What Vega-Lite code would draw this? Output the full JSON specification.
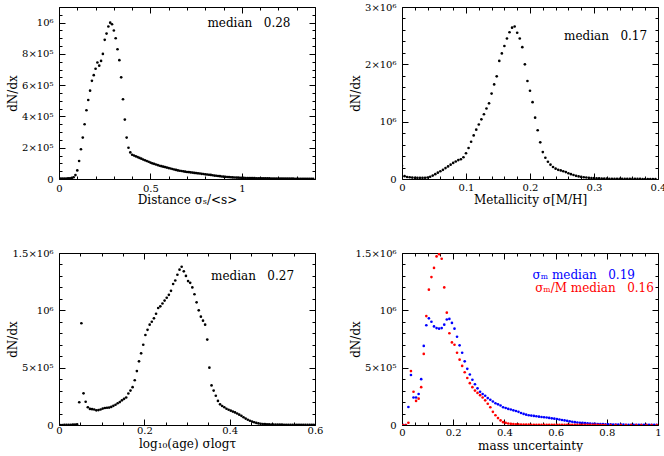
{
"$schema":"https://vega.github.io/schema/vega-lite/v6.json",
"padding":{"left":5,"top":1,"right":0,"bottom":0},
"config":{"font":"DejaVu Serif","view":{"stroke":"#000","strokeWidth":1},
"axis":{"grid":false,"domain":false,"labelFont":"DejaVu Serif","labelFontSize":10,"labelColor":"#000","titleFont":"DejaVu Serif","titleFontSize":12,"titleFontWeight":"normal","titleColor":"#000","tickColor":"#000","tickWidth":1,"labelFlush":false,"labelOverlap":false},
"text":{"font":"DejaVu Serif","fontSize":12}},
"datasets":{
"d1":[{"x":0,"y":1000},{"x":0.01,"y":2000},{"x":0.02,"y":2500},{"x":0.03,"y":3000},{"x":0.04,"y":3500},{"x":0.05,"y":4000},{"x":0.06,"y":5000},{"x":0.07,"y":7000},{"x":0.08,"y":11000},{"x":0.09,"y":25000},{"x":0.1,"y":55000},{"x":0.11,"y":115000},{"x":0.12,"y":190000},{"x":0.13,"y":265000},{"x":0.14,"y":350000},{"x":0.15,"y":440000},{"x":0.16,"y":505000},{"x":0.17,"y":565000},{"x":0.18,"y":628000},{"x":0.19,"y":664000},{"x":0.2,"y":705000},{"x":0.21,"y":745000},{"x":0.22,"y":725000},{"x":0.23,"y":755000},{"x":0.24,"y":800000},{"x":0.25,"y":890000},{"x":0.26,"y":930000},{"x":0.27,"y":975000},{"x":0.28,"y":1000000},{"x":0.29,"y":990000},{"x":0.3,"y":950000},{"x":0.31,"y":900000},{"x":0.32,"y":830000},{"x":0.33,"y":760000},{"x":0.34,"y":650000},{"x":0.35,"y":510000},{"x":0.36,"y":380000},{"x":0.37,"y":265000},{"x":0.38,"y":200000},{"x":0.39,"y":170000},{"x":0.4,"y":155000},{"x":0.41,"y":150000},{"x":0.42,"y":145000},{"x":0.43,"y":140000},{"x":0.44,"y":135000},{"x":0.45,"y":130000},{"x":0.46,"y":125000},{"x":0.47,"y":120000},{"x":0.48,"y":115000},{"x":0.49,"y":110000},{"x":0.5,"y":105000},{"x":0.51,"y":100000},{"x":0.52,"y":97000},{"x":0.53,"y":93000},{"x":0.54,"y":89000},{"x":0.55,"y":85000},{"x":0.56,"y":82000},{"x":0.57,"y":79000},{"x":0.58,"y":76000},{"x":0.59,"y":73000},{"x":0.6,"y":70000},{"x":0.61,"y":67000},{"x":0.62,"y":64000},{"x":0.63,"y":61000},{"x":0.64,"y":58000},{"x":0.65,"y":55000},{"x":0.66,"y":53000},{"x":0.67,"y":51000},{"x":0.68,"y":49000},{"x":0.69,"y":47000},{"x":0.7,"y":45000},{"x":0.71,"y":44000},{"x":0.72,"y":42000},{"x":0.73,"y":41000},{"x":0.74,"y":39000},{"x":0.75,"y":38000},{"x":0.76,"y":36000},{"x":0.77,"y":35000},{"x":0.78,"y":33000},{"x":0.79,"y":32000},{"x":0.8,"y":30000},{"x":0.81,"y":29000},{"x":0.82,"y":27000},{"x":0.83,"y":26000},{"x":0.84,"y":24000},{"x":0.85,"y":22000},{"x":0.86,"y":21000},{"x":0.87,"y":19000},{"x":0.88,"y":18000},{"x":0.89,"y":16000},{"x":0.9,"y":15000},{"x":0.91,"y":14000},{"x":0.92,"y":13000},{"x":0.93,"y":12000},{"x":0.94,"y":11000},{"x":0.95,"y":10000},{"x":0.96,"y":9500},{"x":0.97,"y":9000},{"x":0.98,"y":8500},{"x":0.99,"y":8000},{"x":1.0,"y":7500},{"x":1.01,"y":7000},{"x":1.02,"y":6700},{"x":1.03,"y":6400},{"x":1.04,"y":6100},{"x":1.05,"y":5800},{"x":1.06,"y":5500},{"x":1.07,"y":5200},{"x":1.08,"y":5000},{"x":1.09,"y":4800},{"x":1.1,"y":4600},{"x":1.11,"y":4400},{"x":1.12,"y":4200},{"x":1.13,"y":4000},{"x":1.14,"y":3800},{"x":1.15,"y":3600},{"x":1.16,"y":3400},{"x":1.17,"y":3200},{"x":1.18,"y":3000},{"x":1.19,"y":2900},{"x":1.2,"y":2800},{"x":1.21,"y":2700},{"x":1.22,"y":2600},{"x":1.23,"y":2500},{"x":1.24,"y":2400},{"x":1.25,"y":2300},{"x":1.26,"y":2200},{"x":1.27,"y":2100},{"x":1.28,"y":2000},{"x":1.29,"y":1900},{"x":1.3,"y":1800},{"x":1.31,"y":1700},{"x":1.32,"y":1600},{"x":1.33,"y":1500},{"x":1.34,"y":1400},{"x":1.35,"y":1300},{"x":1.36,"y":1200},{"x":1.37,"y":1100},{"x":1.38,"y":1000},{"x":1.39,"y":900}],
"d2":[{"x":0.0,"y":230000},{"x":0.004,"y":50000},{"x":0.008,"y":35000},{"x":0.012,"y":30000},{"x":0.016,"y":25000},{"x":0.02,"y":22000},{"x":0.024,"y":20000},{"x":0.028,"y":20000},{"x":0.032,"y":20000},{"x":0.036,"y":22000},{"x":0.04,"y":27000},{"x":0.044,"y":40000},{"x":0.048,"y":60000},{"x":0.052,"y":85000},{"x":0.056,"y":110000},{"x":0.06,"y":135000},{"x":0.064,"y":160000},{"x":0.068,"y":190000},{"x":0.072,"y":220000},{"x":0.076,"y":250000},{"x":0.08,"y":280000},{"x":0.084,"y":305000},{"x":0.088,"y":330000},{"x":0.092,"y":345000},{"x":0.096,"y":380000},{"x":0.1,"y":450000},{"x":0.104,"y":540000},{"x":0.108,"y":650000},{"x":0.112,"y":760000},{"x":0.116,"y":860000},{"x":0.12,"y":950000},{"x":0.124,"y":1040000},{"x":0.128,"y":1130000},{"x":0.132,"y":1230000},{"x":0.136,"y":1320000},{"x":0.14,"y":1490000},{"x":0.144,"y":1650000},{"x":0.148,"y":1790000},{"x":0.152,"y":2060000},{"x":0.156,"y":2190000},{"x":0.16,"y":2320000},{"x":0.164,"y":2450000},{"x":0.168,"y":2560000},{"x":0.172,"y":2640000},{"x":0.176,"y":2660000},{"x":0.18,"y":2550000},{"x":0.184,"y":2450000},{"x":0.188,"y":2300000},{"x":0.192,"y":2000000},{"x":0.196,"y":1710000},{"x":0.2,"y":1540000},{"x":0.204,"y":1340000},{"x":0.208,"y":1070000},{"x":0.212,"y":850000},{"x":0.216,"y":640000},{"x":0.22,"y":470000},{"x":0.224,"y":370000},{"x":0.228,"y":300000},{"x":0.232,"y":250000},{"x":0.236,"y":210000},{"x":0.24,"y":180000},{"x":0.244,"y":160000},{"x":0.248,"y":150000},{"x":0.252,"y":135000},{"x":0.256,"y":120000},{"x":0.26,"y":100000},{"x":0.264,"y":85000},{"x":0.268,"y":70000},{"x":0.272,"y":55000},{"x":0.276,"y":45000},{"x":0.28,"y":37000},{"x":0.284,"y":31000},{"x":0.288,"y":26000},{"x":0.292,"y":21000},{"x":0.296,"y":17000},{"x":0.3,"y":14000},{"x":0.304,"y":12000},{"x":0.308,"y":10000},{"x":0.312,"y":8000},{"x":0.316,"y":7000},{"x":0.32,"y":6000},{"x":0.324,"y":5000},{"x":0.328,"y":4000},{"x":0.332,"y":4000},{"x":0.336,"y":3000},{"x":0.34,"y":3000},{"x":0.344,"y":2000},{"x":0.348,"y":2000},{"x":0.352,"y":2000},{"x":0.356,"y":1500},{"x":0.36,"y":1500},{"x":0.364,"y":1200},{"x":0.368,"y":1000},{"x":0.372,"y":1000},{"x":0.376,"y":800},{"x":0.38,"y":800},{"x":0.384,"y":600},{"x":0.388,"y":500},{"x":0.392,"y":500},{"x":0.396,"y":400}],
"d3":[{"x":0.0025,"y":0},{"x":0.0075,"y":0},{"x":0.0125,"y":500},{"x":0.0175,"y":1000},{"x":0.0225,"y":1500},{"x":0.0275,"y":2000},{"x":0.0325,"y":3000},{"x":0.0375,"y":4000},{"x":0.0425,"y":6000},{"x":0.0475,"y":198000},{"x":0.0525,"y":887000},{"x":0.0575,"y":276000},{"x":0.0625,"y":203000},{"x":0.0675,"y":155000},{"x":0.0725,"y":140000},{"x":0.0775,"y":138000},{"x":0.0825,"y":135000},{"x":0.0875,"y":128000},{"x":0.0925,"y":130000},{"x":0.0975,"y":135000},{"x":0.1025,"y":143000},{"x":0.1075,"y":148000},{"x":0.1125,"y":150000},{"x":0.1175,"y":152000},{"x":0.1225,"y":158000},{"x":0.1275,"y":167000},{"x":0.1325,"y":177000},{"x":0.1375,"y":190000},{"x":0.1425,"y":200000},{"x":0.1475,"y":215000},{"x":0.1525,"y":228000},{"x":0.1575,"y":240000},{"x":0.1625,"y":275000},{"x":0.1675,"y":300000},{"x":0.1725,"y":330000},{"x":0.1775,"y":390000},{"x":0.1825,"y":470000},{"x":0.1875,"y":555000},{"x":0.1925,"y":625000},{"x":0.1975,"y":700000},{"x":0.2025,"y":785000},{"x":0.2075,"y":830000},{"x":0.2125,"y":875000},{"x":0.2175,"y":900000},{"x":0.2225,"y":930000},{"x":0.2275,"y":970000},{"x":0.2325,"y":1020000},{"x":0.2375,"y":1035000},{"x":0.2425,"y":1060000},{"x":0.2475,"y":1085000},{"x":0.2525,"y":1110000},{"x":0.2575,"y":1135000},{"x":0.2625,"y":1170000},{"x":0.2675,"y":1230000},{"x":0.2725,"y":1260000},{"x":0.2775,"y":1310000},{"x":0.2825,"y":1355000},{"x":0.2875,"y":1380000},{"x":0.2925,"y":1340000},{"x":0.2975,"y":1300000},{"x":0.3025,"y":1255000},{"x":0.3075,"y":1240000},{"x":0.3125,"y":1200000},{"x":0.3175,"y":1140000},{"x":0.3225,"y":1070000},{"x":0.3275,"y":1000000},{"x":0.3325,"y":945000},{"x":0.3375,"y":910000},{"x":0.3425,"y":875000},{"x":0.3475,"y":745000},{"x":0.3525,"y":500000},{"x":0.3575,"y":345000},{"x":0.3625,"y":300000},{"x":0.3675,"y":255000},{"x":0.3725,"y":210000},{"x":0.3775,"y":180000},{"x":0.3825,"y":166000},{"x":0.3875,"y":155000},{"x":0.3925,"y":142000},{"x":0.3975,"y":133000},{"x":0.4025,"y":125000},{"x":0.4075,"y":117000},{"x":0.4125,"y":110000},{"x":0.4175,"y":100000},{"x":0.4225,"y":90000},{"x":0.4275,"y":80000},{"x":0.4325,"y":68000},{"x":0.4375,"y":56000},{"x":0.4425,"y":46000},{"x":0.4475,"y":37000},{"x":0.4525,"y":30000},{"x":0.4575,"y":24000},{"x":0.4625,"y":18000},{"x":0.4675,"y":14000},{"x":0.4725,"y":11000},{"x":0.4775,"y":9000},{"x":0.4825,"y":7000},{"x":0.4875,"y":6000},{"x":0.4925,"y":5000},{"x":0.4975,"y":4000},{"x":0.5025,"y":3800},{"x":0.5075,"y":3500},{"x":0.5125,"y":3200},{"x":0.5175,"y":3000},{"x":0.5225,"y":2800},{"x":0.5275,"y":2600},{"x":0.5325,"y":2400},{"x":0.5375,"y":2200},{"x":0.5425,"y":2000},{"x":0.5475,"y":1800},{"x":0.5525,"y":1600},{"x":0.5575,"y":1500},{"x":0.5625,"y":1400},{"x":0.5675,"y":1200},{"x":0.5725,"y":1100},{"x":0.5775,"y":1000},{"x":0.5825,"y":900},{"x":0.5875,"y":800},{"x":0.5925,"y":700},{"x":0.5975,"y":600}],
"d4":[{"s":"σM","x":0.005,"y":0},{"s":"σM","x":0.015,"y":0},{"s":"σM","x":0.025,"y":157000},{"s":"σM","x":0.035,"y":436000},{"s":"σM","x":0.045,"y":240000},{"s":"σM","x":0.055,"y":240000},{"s":"σM","x":0.065,"y":270000},{"s":"σM","x":0.075,"y":400000},{"s":"σM","x":0.085,"y":690000},{"s":"σM","x":0.095,"y":870000},{"s":"σM","x":0.105,"y":930000},{"s":"σM","x":0.115,"y":900000},{"s":"σM","x":0.125,"y":860000},{"s":"σM","x":0.135,"y":845000},{"s":"σM","x":0.145,"y":840000},{"s":"σM","x":0.155,"y":845000},{"s":"σM","x":0.165,"y":875000},{"s":"σM","x":0.175,"y":920000},{"s":"σM","x":0.185,"y":925000},{"s":"σM","x":0.195,"y":890000},{"s":"σM","x":0.205,"y":840000},{"s":"σM","x":0.215,"y":770000},{"s":"σM","x":0.225,"y":695000},{"s":"σM","x":0.235,"y":630000},{"s":"σM","x":0.245,"y":555000},{"s":"σM","x":0.255,"y":490000},{"s":"σM","x":0.265,"y":440000},{"s":"σM","x":0.275,"y":395000},{"s":"σM","x":0.285,"y":355000},{"s":"σM","x":0.295,"y":320000},{"s":"σM","x":0.305,"y":290000},{"s":"σM","x":0.315,"y":270000},{"s":"σM","x":0.325,"y":255000},{"s":"σM","x":0.335,"y":235000},{"s":"σM","x":0.345,"y":220000},{"s":"σM","x":0.355,"y":205000},{"s":"σM","x":0.365,"y":190000},{"s":"σM","x":0.375,"y":180000},{"s":"σM","x":0.385,"y":170000},{"s":"σM","x":0.395,"y":155000},{"s":"σM","x":0.405,"y":148000},{"s":"σM","x":0.415,"y":140000},{"s":"σM","x":0.425,"y":135000},{"s":"σM","x":0.435,"y":128000},{"s":"σM","x":0.445,"y":122000},{"s":"σM","x":0.455,"y":115000},{"s":"σM","x":0.465,"y":105000},{"s":"σM","x":0.475,"y":97000},{"s":"σM","x":0.485,"y":90000},{"s":"σM","x":0.495,"y":85000},{"s":"σM","x":0.505,"y":82000},{"s":"σM","x":0.515,"y":79000},{"s":"σM","x":0.525,"y":76000},{"s":"σM","x":0.535,"y":73000},{"s":"σM","x":0.545,"y":70000},{"s":"σM","x":0.555,"y":68000},{"s":"σM","x":0.565,"y":65000},{"s":"σM","x":0.575,"y":62000},{"s":"σM","x":0.585,"y":58000},{"s":"σM","x":0.595,"y":55000},{"s":"σM","x":0.605,"y":52000},{"s":"σM","x":0.615,"y":48000},{"s":"σM","x":0.625,"y":44000},{"s":"σM","x":0.635,"y":40000},{"s":"σM","x":0.645,"y":36000},{"s":"σM","x":0.655,"y":32000},{"s":"σM","x":0.665,"y":28000},{"s":"σM","x":0.675,"y":25000},{"s":"σM","x":0.685,"y":22000},{"s":"σM","x":0.695,"y":20000},{"s":"σM","x":0.705,"y":18000},{"s":"σM","x":0.715,"y":16000},{"s":"σM","x":0.725,"y":14000},{"s":"σM","x":0.735,"y":12000},{"s":"σM","x":0.745,"y":11000},{"s":"σM","x":0.755,"y":10000},{"s":"σM","x":0.765,"y":9000},{"s":"σM","x":0.775,"y":8000},{"s":"σM","x":0.785,"y":7000},{"s":"σM","x":0.795,"y":6000},{"s":"σM","x":0.805,"y":5500},{"s":"σM","x":0.815,"y":5000},{"s":"σM","x":0.825,"y":4500},{"s":"σM","x":0.835,"y":4000},{"s":"σM","x":0.845,"y":3600},{"s":"σM","x":0.855,"y":3200},{"s":"σM","x":0.865,"y":2900},{"s":"σM","x":0.875,"y":2600},{"s":"σM","x":0.885,"y":2300},{"s":"σM","x":0.895,"y":2100},{"s":"σM","x":0.905,"y":1900},{"s":"σM","x":0.915,"y":1700},{"s":"σM","x":0.925,"y":1500},{"s":"σM","x":0.935,"y":1400},{"s":"σM","x":0.945,"y":1300},{"s":"σM","x":0.955,"y":1200},{"s":"σM","x":0.965,"y":1100},{"s":"σM","x":0.975,"y":1000},{"s":"σM","x":0.985,"y":900},{"s":"σM","x":0.995,"y":800},
{"s":"σM/M","x":0.005,"y":0},{"s":"σM/M","x":0.015,"y":0},{"s":"σM/M","x":0.025,"y":20000},{"s":"σM/M","x":0.035,"y":470000},{"s":"σM/M","x":0.045,"y":290000},{"s":"σM/M","x":0.055,"y":210000},{"s":"σM/M","x":0.065,"y":230000},{"s":"σM/M","x":0.075,"y":330000},{"s":"σM/M","x":0.085,"y":620000},{"s":"σM/M","x":0.095,"y":950000},{"s":"σM/M","x":0.105,"y":1180000},{"s":"σM/M","x":0.115,"y":1290000},{"s":"σM/M","x":0.125,"y":1370000},{"s":"σM/M","x":0.135,"y":1470000},{"s":"σM/M","x":0.145,"y":1490000},{"s":"σM/M","x":0.155,"y":1450000},{"s":"σM/M","x":0.165,"y":1200000},{"s":"σM/M","x":0.175,"y":980000},{"s":"σM/M","x":0.185,"y":800000},{"s":"σM/M","x":0.195,"y":720000},{"s":"σM/M","x":0.205,"y":700000},{"s":"σM/M","x":0.215,"y":630000},{"s":"σM/M","x":0.225,"y":570000},{"s":"σM/M","x":0.235,"y":515000},{"s":"σM/M","x":0.245,"y":460000},{"s":"σM/M","x":0.255,"y":410000},{"s":"σM/M","x":0.265,"y":365000},{"s":"σM/M","x":0.275,"y":330000},{"s":"σM/M","x":0.285,"y":300000},{"s":"σM/M","x":0.295,"y":280000},{"s":"σM/M","x":0.305,"y":260000},{"s":"σM/M","x":0.315,"y":240000},{"s":"σM/M","x":0.325,"y":215000},{"s":"σM/M","x":0.335,"y":185000},{"s":"σM/M","x":0.345,"y":155000},{"s":"σM/M","x":0.355,"y":115000},{"s":"σM/M","x":0.365,"y":85000},{"s":"σM/M","x":0.375,"y":60000},{"s":"σM/M","x":0.385,"y":40000},{"s":"σM/M","x":0.395,"y":25000},{"s":"σM/M","x":0.405,"y":18000},{"s":"σM/M","x":0.415,"y":13000},{"s":"σM/M","x":0.425,"y":10000},{"s":"σM/M","x":0.435,"y":8000},{"s":"σM/M","x":0.445,"y":6000},{"s":"σM/M","x":0.455,"y":5000},{"s":"σM/M","x":0.465,"y":4000},{"s":"σM/M","x":0.475,"y":3500},{"s":"σM/M","x":0.485,"y":3000},{"s":"σM/M","x":0.495,"y":3000},{"s":"σM/M","x":0.505,"y":2500},{"s":"σM/M","x":0.515,"y":2400},{"s":"σM/M","x":0.525,"y":2300},{"s":"σM/M","x":0.535,"y":2200},{"s":"σM/M","x":0.545,"y":2100},{"s":"σM/M","x":0.555,"y":2000},{"s":"σM/M","x":0.565,"y":1900},{"s":"σM/M","x":0.575,"y":1800},{"s":"σM/M","x":0.585,"y":1700},{"s":"σM/M","x":0.595,"y":1600},{"s":"σM/M","x":0.605,"y":1500},{"s":"σM/M","x":0.615,"y":1400},{"s":"σM/M","x":0.625,"y":1300},{"s":"σM/M","x":0.635,"y":1200},{"s":"σM/M","x":0.645,"y":1100},{"s":"σM/M","x":0.655,"y":1000},{"s":"σM/M","x":0.665,"y":950},{"s":"σM/M","x":0.675,"y":900},{"s":"σM/M","x":0.685,"y":850},{"s":"σM/M","x":0.695,"y":800},{"s":"σM/M","x":0.705,"y":750},{"s":"σM/M","x":0.715,"y":700},{"s":"σM/M","x":0.725,"y":650},{"s":"σM/M","x":0.735,"y":600},{"s":"σM/M","x":0.745,"y":560},{"s":"σM/M","x":0.755,"y":520},{"s":"σM/M","x":0.765,"y":480},{"s":"σM/M","x":0.775,"y":450},{"s":"σM/M","x":0.785,"y":420},{"s":"σM/M","x":0.795,"y":400},{"s":"σM/M","x":0.815,"y":380},{"s":"σM/M","x":0.835,"y":350},{"s":"σM/M","x":0.855,"y":320},{"s":"σM/M","x":0.875,"y":300},{"s":"σM/M","x":0.895,"y":280},{"s":"σM/M","x":0.915,"y":260},{"s":"σM/M","x":0.935,"y":240},{"s":"σM/M","x":0.955,"y":220},{"s":"σM/M","x":0.975,"y":210},{"s":"σM/M","x":0.995,"y":200}]
},
"columns":2,
"spacing":{"row":74,"column":87},
"bounds":"flush",
"concat":[
{"width":256,"height":172,"resolve":{"axis":{"x":"independent","y":"independent"}},
"layer":[
{"data":{"name":"d1"},"mark":{"type":"circle","size":7,"opacity":1,"color":"#000","clip":true},
"encoding":{
"x":{"field":"x","type":"quantitative","scale":{"domain":[0,1.4],"nice":false,"zero":false},
"axis":{"orient":"bottom","values":[0,0.1,0.2,0.3,0.4,0.5,0.6,0.7,0.8,0.9,1,1.1,1.2,1.3,1.4],"labelExpr":"abs(datum.value*2-round(datum.value*2))<1e-6 ? format(datum.value,'~g') : ''","tickSize":{"condition":{"test":"abs(datum.value*2-round(datum.value*2))<1e-6","value":-6},"value":-3},"labelPadding":15,"labelBaseline":"middle","title":"Distance σₛ/<s>","titleY":24,"titleBaseline":"alphabetic"}},
"y":{"field":"y","type":"quantitative","scale":{"domain":[0,1100000],"nice":false},
"axis":{"orient":"left","values":[0,50000,100000,150000,200000,250000,300000,350000,400000,450000,500000,550000,600000,650000,700000,750000,800000,850000,900000,950000,1000000,1050000,1100000],"labelExpr":"datum.value==0 ? '0' : datum.value==1000000 ? '10⁶\u00a0\u00a0' : (datum.value % 200000 == 0 ? format(datum.value/100000,'d')+'×10⁵\u00a0\u00a0' : '')","tickSize":{"condition":{"test":"datum.value % 200000 == 0","value":-6},"value":-3},"labelPadding":12,"title":"dN/dx","titleX":-43,"titleBaseline":"alphabetic"}}}},
{"data":{"values":[{"x":1.266,"y":995000,"label":"median\u00a0\u00a0\u00a00.28"}]},"mark":{"type":"text","align":"right","baseline":"middle","fontSize":12,"color":"#000"},
"encoding":{
"x":{"field":"x","type":"quantitative","scale":{"domain":[0,1.4],"nice":false,"zero":false},"axis":{"orient":"top","values":[0,0.1,0.2,0.3,0.4,0.5,0.6,0.7,0.8,0.9,1,1.1,1.2,1.3,1.4],"labels":false,"title":null,"tickSize":{"condition":{"test":"abs(datum.value*2-round(datum.value*2))<1e-6","value":-6},"value":-3}}},
"y":{"field":"y","type":"quantitative","scale":{"domain":[0,1100000],"nice":false},"axis":{"orient":"right","values":[0,50000,100000,150000,200000,250000,300000,350000,400000,450000,500000,550000,600000,650000,700000,750000,800000,850000,900000,950000,1000000,1050000,1100000],"labels":false,"title":null,"tickSize":{"condition":{"test":"datum.value % 200000 == 0","value":-6},"value":-3}}},
"text":{"field":"label"}}}
]},
{"width":256,"height":172,"resolve":{"axis":{"x":"independent","y":"independent"}},
"layer":[
{"data":{"name":"d2"},"mark":{"type":"circle","size":7,"opacity":1,"color":"#000","clip":true},
"encoding":{
"x":{"field":"x","type":"quantitative","scale":{"domain":[0,0.4],"nice":false,"zero":false},
"axis":{"orient":"bottom","values":[0,0.02,0.04,0.06,0.08,0.1,0.12,0.14,0.16,0.18,0.2,0.22,0.24,0.26,0.28,0.3,0.32,0.34,0.36,0.38,0.4],"labelExpr":"abs(datum.value*10-round(datum.value*10))<1e-6 ? format(datum.value,'~g') : ''","tickSize":{"condition":{"test":"abs(datum.value*10-round(datum.value*10))<1e-6","value":-6},"value":-3},"labelPadding":14,"labelBaseline":"middle","title":"Metallicity σ[M/H]","titleY":24,"titleBaseline":"alphabetic"}},
"y":{"field":"y","type":"quantitative","scale":{"domain":[0,3000000],"nice":false},
"axis":{"orient":"left","values":[0,200000,400000,600000,800000,1000000,1200000,1400000,1600000,1800000,2000000,2200000,2400000,2600000,2800000,3000000],"labelExpr":"datum.value==0 ? '0' : datum.value==1000000 ? '10⁶\u00a0\u00a0' : (datum.value % 1000000 == 0 ? format(datum.value/1000000,'d')+'×10⁶\u00a0\u00a0' : '')","tickSize":{"condition":{"test":"datum.value % 1000000 == 0","value":-6},"value":-3},"labelPadding":12,"title":"dN/dx","titleX":-43,"titleBaseline":"alphabetic"}}}},
{"data":{"values":[{"x":0.383,"y":2487000,"label":"median\u00a0\u00a0\u00a00.17"}]},"mark":{"type":"text","align":"right","baseline":"middle","fontSize":12,"color":"#000"},
"encoding":{
"x":{"field":"x","type":"quantitative","scale":{"domain":[0,0.4],"nice":false,"zero":false},"axis":{"orient":"top","values":[0,0.02,0.04,0.06,0.08,0.1,0.12,0.14,0.16,0.18,0.2,0.22,0.24,0.26,0.28,0.3,0.32,0.34,0.36,0.38,0.4],"labels":false,"title":null,"tickSize":{"condition":{"test":"abs(datum.value*10-round(datum.value*10))<1e-6","value":-6},"value":-3}}},
"y":{"field":"y","type":"quantitative","scale":{"domain":[0,3000000],"nice":false},"axis":{"orient":"right","values":[0,200000,400000,600000,800000,1000000,1200000,1400000,1600000,1800000,2000000,2200000,2400000,2600000,2800000,3000000],"labels":false,"title":null,"tickSize":{"condition":{"test":"datum.value % 1000000 == 0","value":-6},"value":-3}}},
"text":{"field":"label"}}}
]},
{"width":256,"height":172,"resolve":{"axis":{"x":"independent","y":"independent"}},
"layer":[
{"data":{"name":"d3"},"mark":{"type":"circle","size":7,"opacity":1,"color":"#000","clip":true},
"encoding":{
"x":{"field":"x","type":"quantitative","scale":{"domain":[0,0.6],"nice":false,"zero":false},
"axis":{"orient":"bottom","values":[0,0.05,0.1,0.15,0.2,0.25,0.3,0.35,0.4,0.45,0.5,0.55,0.6],"labelExpr":"abs(datum.value*5-round(datum.value*5))<1e-6 ? format(datum.value,'~g') : ''","tickSize":{"condition":{"test":"abs(datum.value*5-round(datum.value*5))<1e-6","value":-6},"value":-3},"labelPadding":11,"labelBaseline":"middle","title":"log₁₀(age) σlogτ","titleY":22,"titleBaseline":"alphabetic"}},
"y":{"field":"y","type":"quantitative","scale":{"domain":[0,1500000],"nice":false},
"axis":{"orient":"left","values":[0,100000,200000,300000,400000,500000,600000,700000,800000,900000,1000000,1100000,1200000,1300000,1400000,1500000],"labelExpr":"datum.value==0 ? '0' : datum.value==1000000 ? '10⁶\u00a0\u00a0' : datum.value==500000 ? '5×10⁵\u00a0\u00a0' : datum.value==1500000 ? '1.5×10⁶\u00a0\u00a0' : ''","tickSize":{"condition":{"test":"datum.value % 500000 == 0","value":-6},"value":-3},"labelPadding":12,"title":"dN/dx","titleX":-43,"titleBaseline":"alphabetic"}}}},
{"data":{"values":[{"x":0.551,"y":1299000,"label":"median\u00a0\u00a0\u00a00.27"}]},"mark":{"type":"text","align":"right","baseline":"middle","fontSize":12,"color":"#000"},
"encoding":{
"x":{"field":"x","type":"quantitative","scale":{"domain":[0,0.6],"nice":false,"zero":false},"axis":{"orient":"top","values":[0,0.05,0.1,0.15,0.2,0.25,0.3,0.35,0.4,0.45,0.5,0.55,0.6],"labels":false,"title":null,"tickSize":{"condition":{"test":"abs(datum.value*5-round(datum.value*5))<1e-6","value":-6},"value":-3}}},
"y":{"field":"y","type":"quantitative","scale":{"domain":[0,1500000],"nice":false},"axis":{"orient":"right","values":[0,100000,200000,300000,400000,500000,600000,700000,800000,900000,1000000,1100000,1200000,1300000,1400000,1500000],"labels":false,"title":null,"tickSize":{"condition":{"test":"datum.value % 500000 == 0","value":-6},"value":-3}}},
"text":{"field":"label"}}}
]},
{"width":256,"height":172,"resolve":{"axis":{"x":"independent","y":"independent"}},
"layer":[
{"data":{"name":"d4"},"mark":{"type":"circle","size":7,"opacity":1,"clip":true},
"encoding":{
"x":{"field":"x","type":"quantitative","scale":{"domain":[0,1],"nice":false,"zero":false},
"axis":{"orient":"bottom","values":[0,0.05,0.1,0.15,0.2,0.25,0.3,0.35,0.4,0.45,0.5,0.55,0.6,0.65,0.7,0.75,0.8,0.85,0.9,0.95,1],"labelExpr":"abs(datum.value*5-round(datum.value*5))<1e-6 ? format(datum.value,'~g') : ''","tickSize":{"condition":{"test":"abs(datum.value*5-round(datum.value*5))<1e-6","value":-6},"value":-3},"labelPadding":13,"labelBaseline":"middle","title":"mass uncertainty","titleY":24,"titleBaseline":"alphabetic"}},
"y":{"field":"y","type":"quantitative","scale":{"domain":[0,1500000],"nice":false},
"axis":{"orient":"left","values":[0,100000,200000,300000,400000,500000,600000,700000,800000,900000,1000000,1100000,1200000,1300000,1400000,1500000],"labelExpr":"datum.value==0 ? '0' : datum.value==1000000 ? '10⁶\u00a0\u00a0' : datum.value==500000 ? '5×10⁵\u00a0\u00a0' : datum.value==1500000 ? '1.5×10⁶\u00a0\u00a0' : ''","tickSize":{"condition":{"test":"datum.value % 500000 == 0","value":-6},"value":-3},"labelPadding":12,"title":"dN/dx","titleX":-43,"titleBaseline":"alphabetic"}},
"color":{"field":"s","type":"nominal","scale":{"domain":["σM","σM/M"],"range":["#0000ff","#ff0000"]},"legend":null}}},
{"data":{"values":[{"x":0.91,"y":1305000,"label":"σₘ median\u00a0\u00a0\u00a00.19","s":"σM"},{"x":0.984,"y":1193000,"label":"σₘ/M median\u00a0\u00a0\u00a00.16","s":"σM/M"}]},"mark":{"type":"text","align":"right","baseline":"middle","fontSize":12},
"encoding":{
"x":{"field":"x","type":"quantitative","scale":{"domain":[0,1],"nice":false,"zero":false},"axis":{"orient":"top","values":[0,0.05,0.1,0.15,0.2,0.25,0.3,0.35,0.4,0.45,0.5,0.55,0.6,0.65,0.7,0.75,0.8,0.85,0.9,0.95,1],"labels":false,"title":null,"tickSize":{"condition":{"test":"abs(datum.value*5-round(datum.value*5))<1e-6","value":-6},"value":-3}}},
"y":{"field":"y","type":"quantitative","scale":{"domain":[0,1500000],"nice":false},"axis":{"orient":"right","values":[0,100000,200000,300000,400000,500000,600000,700000,800000,900000,1000000,1100000,1200000,1300000,1400000,1500000],"labels":false,"title":null,"tickSize":{"condition":{"test":"datum.value % 500000 == 0","value":-6},"value":-3}}},
"color":{"field":"s","type":"nominal","scale":{"domain":["σM","σM/M"],"range":["#0000ff","#ff0000"]},"legend":null},
"text":{"field":"label"}}}
]}
]
}
